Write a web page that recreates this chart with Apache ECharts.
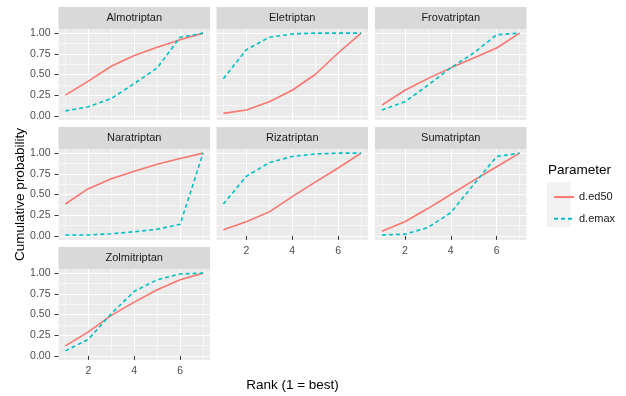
<!DOCTYPE html>
<html>
<head>
<meta charset="utf-8">
<script src="https://cdn.jsdelivr.net/npm/echarts@6/dist/echarts.min.js"></script>
<style>html,body{margin:0;padding:0;background:#fff;}#chart{width:626px;height:396px;}</style>
</head>
<body>
<div id="chart"></div>
<script>
// ---- data ----
const ranks = [1, 2, 3, 4, 5, 6, 7];
const drugs = ['Almotriptan', 'Eletriptan', 'Frovatriptan', 'Naratriptan', 'Rizatriptan', 'Sumatriptan', 'Zolmitriptan'];
const seriesNames = ['d.ed50', 'd.emax'];

const ed50Almotriptan  = [0.25, 0.42, 0.60, 0.73, 0.83, 0.92, 1.00];
const emaxAlmotriptan  = [0.06, 0.11, 0.21, 0.39, 0.58, 0.95, 1.00];
const ed50Eletriptan   = [0.03, 0.07, 0.17, 0.31, 0.50, 0.76, 1.00];
const emaxEletriptan   = [0.45, 0.80, 0.95, 0.99, 1.00, 1.00, 1.00];
const ed50Frovatriptan = [0.13, 0.31, 0.45, 0.58, 0.70, 0.82, 1.00];
const emaxFrovatriptan = [0.07, 0.17, 0.37, 0.58, 0.76, 0.98, 1.00];
const ed50Naratriptan  = [0.385, 0.57, 0.69, 0.78, 0.865, 0.935, 1.00];
const emaxNaratriptan  = [0.01, 0.01, 0.025, 0.05, 0.08, 0.14, 1.00];
const ed50Rizatriptan  = [0.075, 0.17, 0.29, 0.475, 0.65, 0.82, 1.00];
const emaxRizatriptan  = [0.385, 0.72, 0.885, 0.96, 0.99, 1.00, 1.00];
const ed50Sumatriptan  = [0.055, 0.17, 0.33, 0.50, 0.67, 0.835, 1.00];
const emaxSumatriptan  = [0.01, 0.02, 0.10, 0.28, 0.62, 0.96, 1.00];
const ed50Zolmitriptan = [0.12, 0.29, 0.49, 0.65, 0.80, 0.92, 1.00];
const emaxZolmitriptan = [0.06, 0.20, 0.51, 0.78, 0.92, 0.99, 1.00];

const xTicks = [2, 4, 6];
const xMinor = [1, 3, 5, 7];
const yTicks = [0, 0.25, 0.5, 0.75, 1];
const yMinor = [0.125, 0.375, 0.625, 0.875];

const panelData = [
  [ed50Almotriptan, emaxAlmotriptan],
  [ed50Eletriptan, emaxEletriptan],
  [ed50Frovatriptan, emaxFrovatriptan],
  [ed50Naratriptan, emaxNaratriptan],
  [ed50Rizatriptan, emaxRizatriptan],
  [ed50Sumatriptan, emaxSumatriptan],
  [ed50Zolmitriptan, emaxZolmitriptan]
];

// ---- layout ----
const FONT = 'Liberation Sans, Arial, sans-serif';
const colLeft = [58.5, 216.5, 375];
const rowTop = [29, 149, 269];
const panelW = 151.5, panelH = 91, stripH = 22;
const colors = ['#F8766D', '#00BFC4'];
const lineTypes = ['solid', [4, 3]];
const showXLab = [false, false, false, false, true, true, true];

const grids = [], xAxes = [], yAxes = [], series = [], graphics = [];

drugs.forEach((name, i) => {
  const col = i % 3, row = Math.floor(i / 3);
  const left = colLeft[col], top = rowTop[row];
  grids.push({ left: left, top: top, width: panelW, height: panelH, show: true, backgroundColor: '#EBEBEB', borderWidth: 0 });
  const hasX = showXLab[i], hasY = col === 0;
  xAxes.push({
    gridIndex: i, type: 'value', min: 0.7, max: 7.3, position: 'bottom',
    axisLine: { show: false },
    axisTick: { show: hasX, customValues: xTicks, length: 4, lineStyle: { color: '#333333', width: 1 } },
    axisLabel: { show: hasX, customValues: xTicks, margin: 6, fontSize: 10.5, color: '#4D4D4D', fontFamily: FONT },
    splitLine: { show: true, lineStyle: { color: '#FFFFFF', width: 1.1 } }
  });
  xAxes.push({
    gridIndex: i, type: 'value', min: 0.7, max: 7.3, position: 'top',
    axisLine: { show: false },
    axisTick: { show: false, customValues: xMinor },
    axisLabel: { show: false, customValues: xMinor },
    splitLine: { show: true, lineStyle: { color: '#FFFFFF', width: 0.55 } }
  });
  yAxes.push({
    gridIndex: i, type: 'value', min: -0.05, max: 1.05, position: 'left',
    axisLine: { show: false },
    axisTick: { show: hasY, customValues: yTicks, length: 4, lineStyle: { color: '#333333', width: 1 } },
    axisLabel: { show: hasY, customValues: yTicks, margin: 8, fontSize: 10.5, color: '#4D4D4D', fontFamily: FONT,
                 formatter: v => Number(v).toFixed(2) },
    splitLine: { show: true, lineStyle: { color: '#FFFFFF', width: 1.1 } }
  });
  yAxes.push({
    gridIndex: i, type: 'value', min: -0.05, max: 1.05, position: 'right',
    axisLine: { show: false },
    axisTick: { show: false, customValues: yMinor },
    axisLabel: { show: false, customValues: yMinor },
    splitLine: { show: true, lineStyle: { color: '#FFFFFF', width: 0.55 } }
  });
  panelData[i].forEach((vals, k) => {
    series.push({
      name: seriesNames[k], type: 'line', xAxisIndex: 2 * i, yAxisIndex: 2 * i,
      data: ranks.map((r, j) => [r, vals[j]]),
      symbol: 'none', smooth: false, z: 3 + k,
      lineStyle: { color: colors[k], width: 1.6, type: lineTypes[k] },
      itemStyle: { color: colors[k] }
    });
  });
  // strip
  graphics.push({ type: 'rect', left: left, top: top - stripH, shape: { width: panelW, height: stripH }, style: { fill: '#D9D9D9' }, silent: true });
  graphics.push({ type: 'text', x: left + panelW / 2, y: top - stripH / 2,
    style: { text: name, fill: '#1A1A1A', font: '11px ' + FONT, textAlign: 'center', textVerticalAlign: 'middle' } });
});

// axis titles & legend title / key background
graphics.push({ type: 'text', x: 292.5, y: 385,
  style: { text: 'Rank (1 = best)', fill: '#000000', font: '13.5px ' + FONT, textAlign: 'center', textVerticalAlign: 'middle' } });
graphics.push({ type: 'text', x: 20, y: 194.5, rotation: Math.PI / 2,
  style: { text: 'Cumulative probability', fill: '#000000', font: '13.5px ' + FONT, textAlign: 'center', textVerticalAlign: 'middle' } });
graphics.push({ type: 'text', x: 548, y: 170,
  style: { text: 'Parameter', fill: '#000000', font: '13.5px ' + FONT, textAlign: 'left', textVerticalAlign: 'middle' } });
graphics.push({ type: 'rect', left: 547, top: 182, shape: { width: 23.5, height: 45 }, style: { fill: '#F2F2F2' }, silent: true, z: -1 });

const chart = echarts.init(document.getElementById('chart'), null, { renderer: 'canvas' });
chart.setOption({
  animation: false,
  backgroundColor: '#FFFFFF',
  grid: grids,
  xAxis: xAxes,
  yAxis: yAxes,
  series: series,
  legend: {
    data: seriesNames, orient: 'vertical', left: 548, top: 186.5,
    itemWidth: 20, itemHeight: 14, itemGap: 10.4, itemStyle: { opacity: 0 },
    textStyle: { fontSize: 11, color: '#1A1A1A', fontFamily: FONT }, selectedMode: false
  },
  graphic: graphics
});
</script>
</body>
</html>
